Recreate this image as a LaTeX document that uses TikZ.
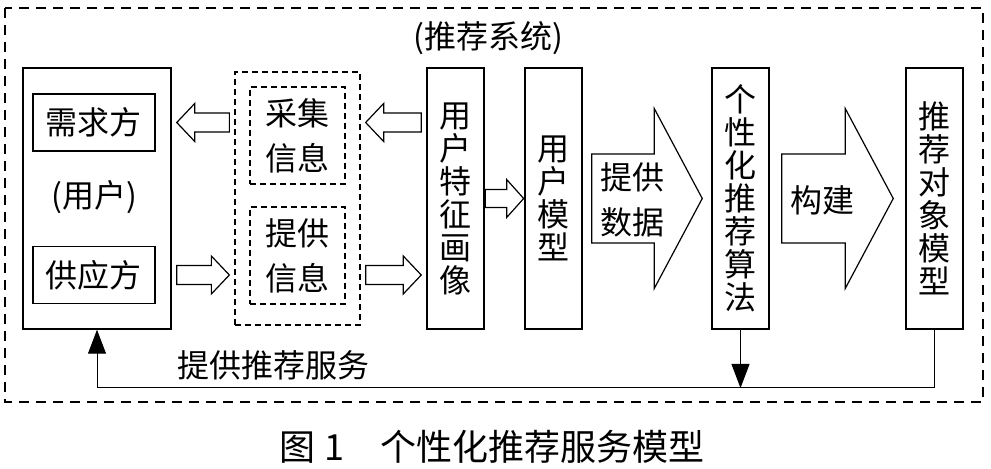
\documentclass[tikz,border=0pt]{standalone}
\usepackage{fontspec}
\newfontfamily\cjk{Noto Sans CJK SC}
\usetikzlibrary{arrows.meta, calc}

\begin{document}
\begin{tikzpicture}[x=0.5pt, y=-0.5pt,
        font=\cjk\fontsize{16}{16.5}\selectfont,
        box/.style={draw, line width=0.75pt, inner sep=0pt},
        tall box/.style={box, minimum width=28.5pt, minimum height=130.5pt, align=center},
        side box/.style={box, minimum width=61pt, minimum height=28.5pt},
        dash box/.style={draw, line width=0.65pt, dash pattern=on 3pt off 2pt, inner sep=0pt},
        info box/.style={dash box, minimum width=47.5pt, minimum height=48.5pt, align=center,
            font=\cjk\fontsize{16}{22.5}\selectfont},
        hollow arrow/.style n args={4}{draw, line width=0.6pt, fill=white, to path={
            let \p1=($(\tikztostart)!#4!(\tikztotarget)$), \p2=($(\tikztotarget)!#4!(\tikztostart)$),
                \p3=($(\p2)!#3!(\p1)$) in
            (\x1,\y1+#1) -- (\x3,\y1+#1) -- (\x3,\y1+#2) -- (\x2,\y2)
            -- (\x3,\y1-#2) -- (\x3,\y1-#1) -- (\x1,\y1-#1) -- cycle}},
        small arrow/.style={hollow arrow={4.75pt}{9.5pt}{9pt}{2.5pt}},
        service/.style={line width=0.5pt, -{Triangle[length=12pt, width=9pt]}}]

    \useasboundingbox (0,0) rectangle (991,469);

    % Ramka systemu
    \draw[line width=0.6pt, dash pattern=on 5pt off 3.5pt] (5,8) rectangle (983,402);
    \node (title) at (488,38) {(推荐系统)};

    % Wezly
    \node[box, minimum width=74pt, minimum height=130.5pt] (user) at (97,198.5) {};
    \node[side box] (demand) at (94,122.5) {需求方};
    \node (userlabel) at (94,197) {(用户)};
    \node[side box] (supply) at (94,275) {供应方};

    \node[dash box, minimum width=62.5pt, minimum height=126.5pt] (info) at (297.5,198.5) {};
    \node[info box] (collect) at (297.5,135.5) {采集\\信息};
    \node[info box] (provide) at (297.5,255.5) {提供\\信息};

    \node[tall box] (profile) at (455.5,198.5) {用\\户\\特\\征\\画\\像};
    \node[tall box] (model) at (553.5,198.5) {用\\户\\模\\型};
    \node[tall box] (algo) at (740.5,198.5) {个\\性\\化\\推\\荐\\算\\法};
    \node[tall box] (target) at (934.5,198.5) {推\\荐\\对\\象\\模\\型};

    % Strzalki
    \draw[small arrow] (info.west |- demand) to (user.east |- demand);
    \draw[small arrow] (profile.west |- demand) to (info.east |- demand);
    \draw[small arrow] (user.east |- supply) to (info.west |- supply);
    \draw[small arrow] (info.east |- supply) to (profile.west |- supply);
    \draw[hollow arrow={4.5pt}{9.5pt}{8.5pt}{0.3pt}] (profile.east) to (model.west);
    \draw[hollow arrow={22.25pt}{45pt}{24pt}{4.5pt}] (model.east) to (algo.west);
    \draw[hollow arrow={22.25pt}{45pt}{24pt}{6pt}] (algo.east) to (target.west);
    \node[align=center, font=\cjk\fontsize{16}{22.5}\selectfont] (data) at (632,199.5) {提供\\数据};
    \node (build) at (822,200) {构建};

    \coordinate (turn) at (933,388);
    \draw[service] (target.south) |- (user.south |- turn) -- (user.south);
    \draw[service] (algo.south) -- (algo.south |- turn);
    \node (servicelabel) at (273,365) {提供推荐服务};

    % Podpis
    \node[font=\cjk\fontsize{18}{20}\selectfont] (caption) at (492,447) {图 1\quad 个性化推荐服务模型};
\end{tikzpicture}
\end{document}
